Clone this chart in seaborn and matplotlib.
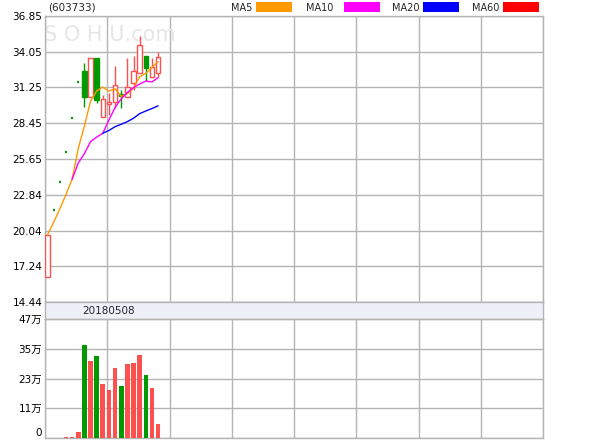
import numpy as np
import pandas as pd
import matplotlib
matplotlib.use("Agg")
import matplotlib.pyplot as plt
from matplotlib.patches import Rectangle
import seaborn as sns

# ---------------- data ----------------
stock_code = "(603733)"
last_date = "20180508"
opens  = [16.40, 21.66, 23.83, 26.21, 28.83, 31.71, 32.54, 30.50, 33.56, 28.94,
          29.95, 30.11, 30.74, 30.50, 31.60, 32.38, 33.72, 32.09, 32.36]
highs  = [19.69, 21.66, 23.83, 26.21, 28.83, 31.71, 33.17, 33.56, 33.56, 30.66,
          30.82, 32.90, 31.05, 33.56, 33.72, 35.28, 33.72, 33.56, 34.05]
lows   = [16.40, 21.66, 23.83, 26.21, 28.83, 31.71, 29.72, 30.50, 30.03, 28.94,
          29.09, 29.64, 29.64, 30.50, 31.05, 32.38, 31.76, 32.09, 32.09]
closes = [19.69, 21.66, 23.83, 26.21, 28.83, 31.71, 30.50, 33.56, 30.27, 30.35,
          30.11, 31.44, 30.60, 31.29, 32.54, 34.58, 32.78, 32.88, 33.61]
volumes_wan = [0.1, 0.05, 0.1, 0.4, 0.5, 2.3, 36.8, 30.4, 32.4, 21.3,
               19.0, 27.7, 20.6, 29.4, 29.8, 32.8, 24.9, 19.8, 5.5]
volume_up = [1, 1, 1, 1, 1, 1, 0, 1, 0, 1, 1, 1, 0, 1, 1, 1, 0, 1, 1]

price_tick_labels = ["14.44", "17.24", "20.04", "22.84", "25.65",
                     "28.45", "31.25", "34.05", "36.85"]
volume_tick_labels = ["0", "11万", "23万", "35万", "47万"]
volume_max = 47
ma_names = ["MA5", "MA10", "MA20", "MA60"]
ma_windows = [5, 10, 20, 60]
ma_colors = ["#FF9900", "#FF00FF", "#0000FF", "#FF0000"]

# ---------------- style ----------------
sns.set_style("white")
plt.rcParams["font.family"] = ["DejaVu Sans", "Noto Sans CJK SC"]

RED = "#FF5050"
GREEN = "#009900"
GRID = "#B4B4B4"
n_slots = 81
x0 = -0.4

W, H = 600, 440
fig = plt.figure(figsize=(W / 100, H / 100), dpi=100)

def fx(px):
    return px / W

def fy(py):
    return 1 - py / H

L, R = 45, 543
ax = fig.add_axes([fx(L), fy(302), fx(R - L), (302 - 16) / H])
axb = fig.add_axes([fx(L), fy(319), fx(R - L), (319 - 302) / H])
axv = fig.add_axes([fx(L), fy(438), fx(R - L), (438 - 319) / H])

df = pd.DataFrame({"i": np.arange(len(closes)), "open": opens, "high": highs,
                   "low": lows, "close": closes, "vol": volumes_wan,
                   "vup": volume_up})

xgrid = x0 + np.arange(9) * n_slots / 8

for a in (ax, axv):
    a.set_xlim(x0, x0 + n_slots)
    a.set_xticks(xgrid)
    a.set_xticklabels([])
    a.grid(True, color=GRID, lw=1.0)
    a.set_axisbelow(True)
    for s in a.spines.values():
        s.set_color(GRID)
        s.set_linewidth(1.0)
    a.tick_params(axis="both", length=0, pad=2, labelsize=7.5, colors="black")

# ---------------- price panel ----------------
ax.set_ylim(14.44, 36.85)
ax.set_yticks([float(s) for s in price_tick_labels])
ax.set_yticklabels(price_tick_labels)

cw = 0.72
for r in df.itertuples():
    top, bot = max(r.open, r.close), min(r.open, r.close)
    if r.close > r.open:
        ax.add_patch(Rectangle((r.i - cw / 2, bot), cw, top - bot,
                               facecolor="white", edgecolor=RED, lw=1.0, zorder=3))
        ax.vlines(r.i, top, r.high, color=RED, lw=1.0, zorder=3)
        ax.vlines(r.i, r.low, bot, color=RED, lw=1.0, zorder=3)
    elif r.close < r.open:
        ax.vlines(r.i, r.low, r.high, color=GREEN, lw=1.0, zorder=3)
        ax.add_patch(Rectangle((r.i - cw / 2, bot), cw, top - bot,
                               facecolor=GREEN, edgecolor=GREEN, lw=1.0, zorder=3))
    else:
        ax.plot([r.i - 0.15, r.i + 0.15], [r.close, r.close], color=GREEN,
                lw=1.6, solid_capstyle="butt", zorder=3)

for name, w, c in zip(ma_names, ma_windows, ma_colors):
    ma = df["close"].rolling(w, min_periods=w // 2 if w > 5 else 1).mean()
    if ma.notna().any():
        sns.lineplot(x=df["i"], y=ma, color=c, lw=1.0, ax=ax, zorder=4)
ax.set_xlabel("")
ax.set_ylabel("")

ax.text(0.13, 0.935, "S O H U.com", transform=ax.transAxes, ha="center",
        va="center", fontsize=15, color="#E6E6E6", zorder=1)

# ---------------- date band ----------------
axb.set_facecolor("#EEF0F8")
axb.set_xticks([])
axb.set_yticks([])
for s in axb.spines.values():
    s.set_color(GRID)
    s.set_linewidth(1.0)
axb.text(0.1275, 0.5, last_date, transform=axb.transAxes, ha="center",
         va="center", fontsize=7.5)

# ---------------- volume panel ----------------
axv.set_ylim(0, volume_max)
vticks = np.linspace(0, volume_max, len(volume_tick_labels))
axv.set_yticks(vticks)
axv.set_yticklabels(volume_tick_labels)
axv.get_yticklabels()[0].set_va("bottom")
vcolors = [RED if u else GREEN for u in df["vup"]]
axv.bar(df["i"], df["vol"], width=0.75, color=vcolors, lw=0, zorder=3)

# ---------------- header ----------------
fig.text(fx(48), fy(8), stock_code, ha="left", va="center", fontsize=7.5)
text_left = [231, 306, 392, 472]
box_left = [256, 344, 423, 503]
for name, c, tl, bl in zip(ma_names, ma_colors, text_left, box_left):
    fig.text(fx(tl), fy(8), name, ha="left", va="center", fontsize=7)
    fig.patches.append(Rectangle((fx(bl), fy(12.5)), fx(36), 10 / H,
                                 transform=fig.transFigure, facecolor=c,
                                 edgecolor="none"))

fig.savefig("out.png", dpi=100)
